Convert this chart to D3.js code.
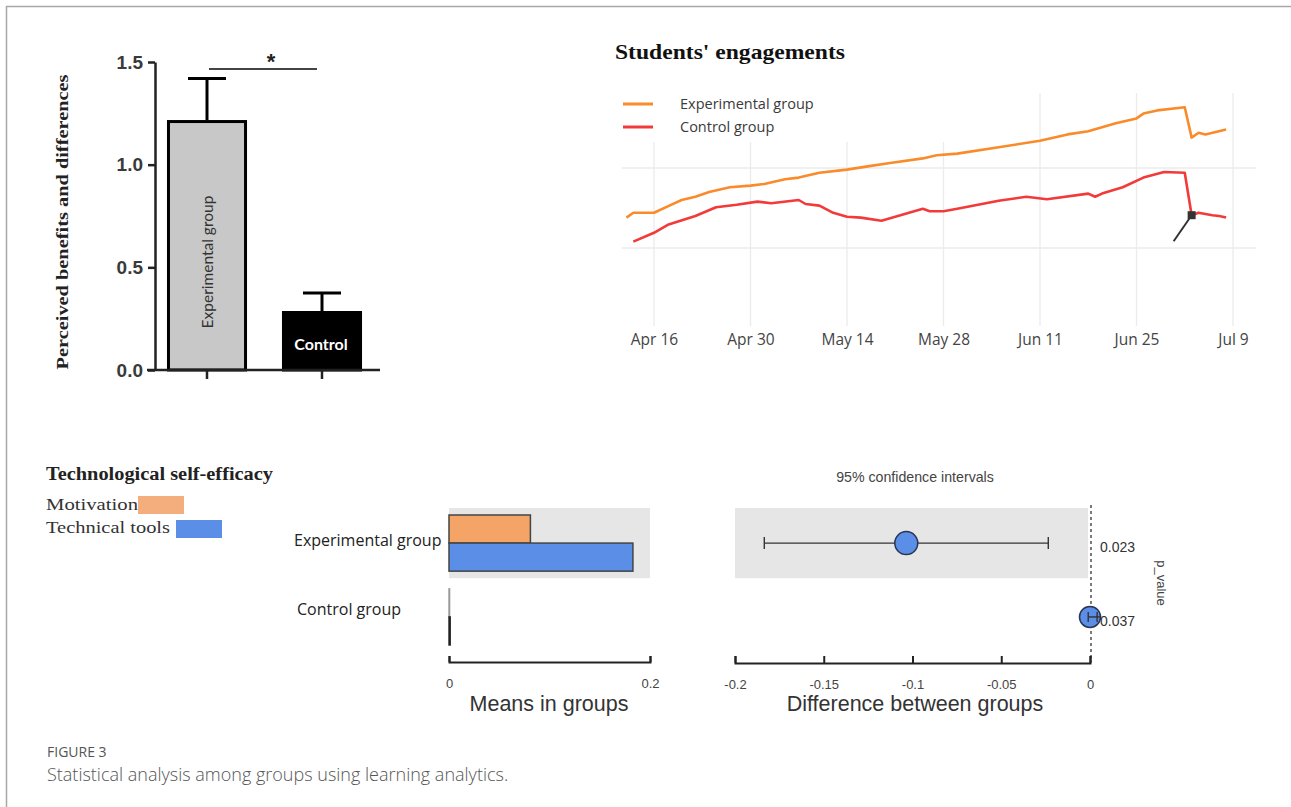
<!DOCTYPE html>
<html>
<head>
<meta charset="utf-8">
<script src="https://cdn.jsdelivr.net/npm/d3@7"></script>
<style>
  html, body { margin: 0; padding: 0; background: #fff; }
  svg { display: block; }
</style>
</head>
<body>
<svg id="chart" width="1291" height="807"></svg>
<script>
// ---------------- DATA ----------------
// Panel A: perceived benefits
const benefitCategories = ["Experimental group", "Control"];
const benefitMeans = [1.21, 0.28];
const benefitErrors = [1.42, 0.375];
const benefitTicks = [0, 0.5, 1.0, 1.5];

// Panel B: students' engagement (time series)
const engagementSeries = ["Experimental group", "Control group"];
const experimentalDates = ["2021-04-12","2021-04-13","2021-04-16","2021-04-18","2021-04-20","2021-04-22","2021-04-24","2021-04-27","2021-04-30","2021-05-02","2021-05-05","2021-05-07","2021-05-10","2021-05-14","2021-05-17","2021-05-20","2021-05-25","2021-05-27","2021-05-30","2021-06-05","2021-06-11","2021-06-15","2021-06-18","2021-06-22","2021-06-25","2021-06-26","2021-06-28","2021-07-02","2021-07-03","2021-07-04","2021-07-05","2021-07-08"];
const experimentalValues = [69,72,72,76,80,82,85,88,89,90,93,94,97,99,101,103,106,108,109,113,117,121,123,128,131,134,136,138,119,122,121,124];
const controlDates = ["2021-04-13","2021-04-16","2021-04-18","2021-04-22","2021-04-25","2021-04-28","2021-05-01","2021-05-03","2021-05-07","2021-05-08","2021-05-10","2021-05-12","2021-05-14","2021-05-16","2021-05-19","2021-05-23","2021-05-25","2021-05-26","2021-05-28","2021-05-30","2021-06-02","2021-06-05","2021-06-09","2021-06-12","2021-06-18","2021-06-19","2021-06-20","2021-06-23","2021-06-26","2021-06-29","2021-07-02","2021-07-03","2021-07-04","2021-07-06","2021-07-07","2021-07-08"];
const controlValues = [54,59.5,64.5,70,75.5,77,79,78,80,77.5,76.5,72,69.5,69,67,72,74.5,73,73,74.5,77,79.5,82,80.5,84,82,84,88,94,97.5,97,70.5,72,70.5,70,69];
const engagementTicks = ["2021-04-16","2021-04-30","2021-05-14","2021-05-28","2021-06-11","2021-06-25","2021-07-09"];
const engagementGrid = [50, 100];
const markerDate = "2021-07-03";

// Panel C: technological self-efficacy
const groupCategories = ["Experimental group", "Control group"];
const efficacyMeasures = ["Motivation", "Technical tools"];
const motivationMeans = [0.081, 0.0006];
const technicalMeans = [0.183, 0.0012];
const meansTicks = [0, 0.2];

// Panel D: differences between groups (95% CI)
const diffEstimates = [-0.1035, 0.0];
const diffLower = [-0.1835, -0.001];
const diffUpper = [-0.0235, 0.004];
const pValues = ["0.023", "0.037"];
const diffTicks = [-0.2, -0.15, -0.1, -0.05, 0];

// ---------------- DRAW ----------------
const svg = d3.select("#chart");
const parse = d3.timeParse("%Y-%m-%d");
const SERIF = "Liberation Serif, serif";
const SANS = "Liberation Sans, Arial, sans-serif";

// Frame
svg.append("path").attr("d", "M6.5,807 L6.5,6.5 L1291,6.5")
  .attr("fill", "none").attr("stroke", "#a8a8a8").attr("stroke-width", 1.5);

// ===== Panel A =====
{
  const g = svg.append("g");
  const y = d3.scaleLinear().domain([0, 1.5]).range([370, 62]);
  const x = d3.scaleBand().domain(benefitCategories).range([149.5, 379.5])
    .paddingInner(0.33).paddingOuter(0.165);

  const fills = ["#c8c8c8", "#000"];
  g.selectAll("rect.bar").data(benefitCategories).join("rect")
    .attr("x", d => x(d)).attr("width", x.bandwidth())
    .attr("y", (d, i) => y(benefitMeans[i]))
    .attr("height", (d, i) => y(0) - y(benefitMeans[i]))
    .attr("fill", (d, i) => fills[i]).attr("stroke", "#000").attr("stroke-width", 3);

  benefitCategories.forEach((d, i) => {
    const cx = x(d) + x.bandwidth() / 2;
    g.append("line").attr("x1", cx).attr("x2", cx)
      .attr("y1", y(benefitMeans[i]) - 1.5).attr("y2", y(benefitErrors[i]))
      .attr("stroke", "#000").attr("stroke-width", 3);
    g.append("line").attr("x1", cx - 19).attr("x2", cx + 19)
      .attr("y1", y(benefitErrors[i])).attr("y2", y(benefitErrors[i]))
      .attr("stroke", "#000").attr("stroke-width", 3);
  });

  const yAxis = d3.axisLeft(y).tickValues(benefitTicks).tickFormat(d3.format(".1f"))
    .tickSize(7).tickSizeOuter(0).tickPadding(5);
  const ya = g.append("g").attr("transform", "translate(155,0)").call(yAxis);
  ya.select(".domain").attr("stroke", "#222").attr("stroke-width", 2.5);
  ya.selectAll(".tick line").attr("stroke", "#222").attr("stroke-width", 2.5);
  ya.selectAll(".tick text").attr("font-family", SANS)
    .attr("font-size", 19).attr("font-weight", "bold").attr("fill", "#3a3a3a");

  g.append("line").attr("x1", 147).attr("x2", 380).attr("y1", 370).attr("y2", 370)
    .attr("stroke", "#222").attr("stroke-width", 2.5);
  benefitCategories.forEach(d => {
    const cx = x(d) + x.bandwidth() / 2;
    g.append("line").attr("x1", cx).attr("x2", cx).attr("y1", 370).attr("y2", 379)
      .attr("stroke", "#222").attr("stroke-width", 2.5);
  });

  const c0 = x(benefitCategories[0]) + x.bandwidth() / 2;
  g.append("text").attr("transform", `translate(${c0 + 6},262) rotate(-90)`)
    .attr("text-anchor", "middle").attr("font-family", "Lato, sans-serif")
    .attr("font-size", 15.5).attr("fill", "#333").text(benefitCategories[0]);
  const c1 = x(benefitCategories[1]) + x.bandwidth() / 2;
  g.append("text").attr("x", c1 - 1).attr("y", 350).attr("text-anchor", "middle")
    .attr("font-family", "Lato, sans-serif").attr("font-weight", "bold")
    .attr("font-size", 16).attr("fill", "#fff").text(benefitCategories[1]);

  g.append("line").attr("x1", 209).attr("x2", 317).attr("y1", 69).attr("y2", 69)
    .attr("stroke", "#444").attr("stroke-width", 1.8);
  g.append("text").attr("x", 271).attr("y", 69).attr("text-anchor", "middle")
    .attr("font-family", SANS).attr("font-weight", "bold")
    .attr("font-size", 22).attr("fill", "#222").text("*");

  g.append("text").attr("transform", "translate(68,222) rotate(-90)")
    .attr("text-anchor", "middle").attr("font-family", SERIF)
    .attr("font-weight", "bold").attr("font-size", 17).attr("fill", "#222")
    .attr("textLength", 295).attr("lengthAdjust", "spacingAndGlyphs")
    .text("Perceived benefits and differences");
}

// ===== Panel B =====
{
  const g = svg.append("g");
  const x = d3.scaleTime().domain([parse("2021-04-16"), parse("2021-07-09")]).range([654, 1233]);
  const y = d3.scaleLinear().domain([50, 100]).range([248, 168]);

  g.selectAll("line.vg").data(engagementTicks).join("line")
    .attr("x1", d => x(parse(d))).attr("x2", d => x(parse(d)))
    .attr("y1", 93).attr("y2", 326).attr("stroke", "#ebebeb").attr("stroke-width", 1.3);
  g.selectAll("line.hg").data(engagementGrid).join("line")
    .attr("x1", 622).attr("x2", 1256).attr("y1", d => y(d)).attr("y2", d => y(d))
    .attr("stroke", "#ebebeb").attr("stroke-width", 1.3);

  g.append("rect").attr("x", 612).attr("y", 80).attr("width", 335).attr("height", 62).attr("fill", "#fff");

  const line = d3.line().x(d => x(d[0])).y(d => y(d[1]));
  const expData = experimentalDates.map((d, i) => [parse(d), experimentalValues[i]]);
  const ctlData = controlDates.map((d, i) => [parse(d), controlValues[i]]);
  const colors = ["#f98b2b", "#f23a3a"];
  g.append("path").datum(expData).attr("d", line).attr("fill", "none")
    .attr("stroke", colors[0]).attr("stroke-width", 2.6).attr("stroke-linejoin", "round");
  g.append("path").datum(ctlData).attr("d", line).attr("fill", "none")
    .attr("stroke", colors[1]).attr("stroke-width", 2.6).attr("stroke-linejoin", "round");

  const mi = controlDates.indexOf(markerDate);
  const mx = x(parse(markerDate)), my = y(controlValues[mi]);
  g.append("line").attr("x1", mx).attr("y1", my).attr("x2", mx - 18).attr("y2", my + 26)
    .attr("stroke", "#333").attr("stroke-width", 2);
  g.append("rect").attr("x", mx - 4).attr("y", my - 4).attr("width", 8).attr("height", 8)
    .attr("fill", "#333");

  const xa = d3.axisBottom(x).tickValues(engagementTicks.map(parse)).tickFormat(d3.timeFormat("%b %-d"))
    .tickSize(0).tickPadding(0);
  const xg = g.append("g").attr("transform", "translate(0,334)").call(xa);
  xg.select(".domain").remove();
  xg.selectAll("text").attr("font-family", "Open Sans, sans-serif").attr("font-size", 15.5)
    .attr("fill", "#444");

  engagementSeries.forEach((s, i) => {
    const ly = 104 + i * 23;
    g.append("line").attr("x1", 623).attr("x2", 653).attr("y1", ly).attr("y2", ly)
      .attr("stroke", colors[i]).attr("stroke-width", 3);
    g.append("text").attr("x", 680).attr("y", ly + 5).attr("font-family", "Open Sans, sans-serif")
      .attr("font-size", 14.5).attr("fill", "#3a3a3a").text(s);
  });

  g.append("text").attr("x", 615).attr("y", 59).attr("font-family", SERIF)
    .attr("font-weight", "bold").attr("font-size", 21.5).attr("fill", "#111")
    .attr("textLength", 230).attr("lengthAdjust", "spacingAndGlyphs").text("Students' engagements");
}

// ===== Panel C =====
const yGroup = d3.scaleBand().domain(groupCategories).range([508, 652]).paddingInner(0.05).paddingOuter(0);
const ySub = d3.scaleBand().domain(efficacyMeasures).range([7, yGroup.bandwidth() - 7]);
const labelLift = [3, 8];
{
  const g = svg.append("g");
  const x = d3.scaleLinear().domain([0, 0.2]).range([449, 650]);
  const colors = ["#f4a466", "#5b8ee6"];

  g.append("text").attr("x", 46).attr("y", 480).attr("font-family", SERIF)
    .attr("font-weight", "bold").attr("font-size", 18).attr("fill", "#222")
    .attr("textLength", 227).attr("lengthAdjust", "spacingAndGlyphs").text("Technological self-efficacy");
  g.append("text").attr("x", 46).attr("y", 510).attr("font-family", SERIF)
    .attr("font-size", 17).attr("fill", "#333")
    .attr("textLength", 92).attr("lengthAdjust", "spacingAndGlyphs").text(efficacyMeasures[0]);
  g.append("rect").attr("x", 138).attr("y", 496).attr("width", 46).attr("height", 18).attr("fill", "#f4ae7e");
  g.append("text").attr("x", 46).attr("y", 533).attr("font-family", SERIF)
    .attr("font-size", 17).attr("fill", "#333")
    .attr("textLength", 124).attr("lengthAdjust", "spacingAndGlyphs").text(efficacyMeasures[1]);
  g.append("rect").attr("x", 176).attr("y", 520).attr("width", 46).attr("height", 18).attr("fill", "#5b8ee6");

  g.append("rect").attr("x", x(0)).attr("y", yGroup(groupCategories[0]))
    .attr("width", x(0.2) - x(0)).attr("height", yGroup.bandwidth()).attr("fill", "#e6e6e6");

  const vals = [motivationMeans, technicalMeans];
  groupCategories.forEach((gc, gi) => {
    efficacyMeasures.forEach((m, mi) => {
      g.append("rect").attr("x", x(0)).attr("y", yGroup(gc) + ySub(m))
        .attr("width", Math.max(0.01, x(vals[mi][gi]) - x(0))).attr("height", ySub.bandwidth())
        .attr("fill", colors[mi]).attr("stroke", gi === 0 ? "#444" : (mi === 0 ? "#999" : "#222"))
        .attr("stroke-width", gi === 0 ? 1.5 : 1.4);
    });
    g.append("text").attr("x", 294 + gi * 3).attr("y", yGroup(gc) + yGroup.bandwidth() / 2 - labelLift[gi])
      .attr("dy", "0.35em").attr("font-family", "Open Sans, sans-serif").attr("font-size", 16)
      .attr("fill", "#222").text(gc);
  });

  const xa = d3.axisBottom(x).tickValues(meansTicks).tickFormat(d => String(d))
    .tickSize(-6).tickSizeOuter(-6).tickPadding(17);
  const ag = g.append("g").attr("transform", "translate(0,662)").call(xa);
  ag.select(".domain").attr("stroke", "#222").attr("stroke-width", 2);
  ag.selectAll(".tick line").attr("stroke", "#222").attr("stroke-width", 2);
  ag.selectAll("text").attr("font-family", SANS).attr("font-size", 13).attr("fill", "#444");

  g.append("text").attr("x", 549).attr("y", 711).attr("text-anchor", "middle")
    .attr("font-family", SANS).attr("font-size", 21.5).attr("fill", "#333")
    .text("Means in groups");
}

// ===== Panel D =====
{
  const g = svg.append("g");
  const x = d3.scaleLinear().domain([-0.2, 0]).range([735, 1090]);

  g.append("text").attr("x", 915).attr("y", 482).attr("text-anchor", "middle")
    .attr("font-family", SANS).attr("font-size", 14.2).attr("fill", "#444")
    .text("95% confidence intervals");

  g.append("rect").attr("x", x(-0.2)).attr("y", yGroup(groupCategories[0]))
    .attr("width", x(0) - x(-0.2) - 2).attr("height", yGroup.bandwidth()).attr("fill", "#e6e6e6");

  g.append("line").attr("x1", x(0) + 1).attr("x2", x(0) + 1).attr("y1", 505).attr("y2", 662)
    .attr("stroke", "#333").attr("stroke-width", 1.3).attr("stroke-dasharray", "3,3");

  groupCategories.forEach((gc, i) => {
    const cy = yGroup(gc) + yGroup.bandwidth() / 2;
    g.append("line").attr("x1", x(diffLower[i])).attr("x2", x(diffUpper[i])).attr("y1", cy).attr("y2", cy)
      .attr("stroke", "#333").attr("stroke-width", 1.4);
    [diffLower[i], diffUpper[i]].forEach(v => {
      g.append("line").attr("x1", x(v)).attr("x2", x(v)).attr("y1", cy - 6).attr("y2", cy + 6)
        .attr("stroke", "#333").attr("stroke-width", 1.4);
    });
    g.append("circle").attr("cx", x(diffEstimates[i])).attr("cy", cy).attr("r", i === 0 ? 11.5 : 10.5)
      .attr("fill", "#5b8ee6").attr("stroke", "#2a3550").attr("stroke-width", 1.5);
    if (i === 1) {
      g.append("line").attr("x1", x(diffLower[i])).attr("x2", x(diffUpper[i]) + 4).attr("y1", cy).attr("y2", cy)
        .attr("stroke", "#333").attr("stroke-width", 1.4);
      [diffLower[i], diffUpper[i]].forEach(v => {
        g.append("line").attr("x1", x(v)).attr("x2", x(v)).attr("y1", cy - 5).attr("y2", cy + 5)
          .attr("stroke", "#333").attr("stroke-width", 1.4);
      });
    }
    g.append("text").attr("x", 1100).attr("y", cy + 4).attr("dy", "0.35em")
      .attr("font-family", SANS).attr("font-size", 14).attr("fill", "#333")
      .text(pValues[i]);
  });

  g.append("text").attr("transform", "translate(1157,583) rotate(90)").attr("text-anchor", "middle")
    .attr("font-family", SANS).attr("font-size", 13).attr("fill", "#444")
    .text("p_value");

  const xa = d3.axisBottom(x).tickValues(diffTicks).tickFormat(d => String(d))
    .tickSize(-7).tickSizeOuter(-7).tickPadding(17);
  const ag = g.append("g").attr("transform", "translate(0,663)").call(xa);
  ag.select(".domain").attr("stroke", "#222").attr("stroke-width", 2);
  ag.selectAll(".tick line").attr("stroke", "#222").attr("stroke-width", 2);
  ag.selectAll("text").attr("font-family", SANS).attr("font-size", 13).attr("fill", "#444");

  g.append("text").attr("x", 915).attr("y", 711).attr("text-anchor", "middle")
    .attr("font-family", SANS).attr("font-size", 21.5).attr("fill", "#333")
    .text("Difference between groups");
}

// Caption
svg.append("text").attr("x", 47).attr("y", 757).attr("font-family", "Open Sans, sans-serif")
  .attr("font-size", 14).attr("fill", "#555").text("FIGURE 3");
svg.append("text").attr("x", 47).attr("y", 781).attr("font-family", "Open Sans, sans-serif")
  .attr("font-weight", 300).attr("font-size", 18).attr("fill", "#555")
  .text("Statistical analysis among groups using learning analytics.");
</script>
</body>
</html>
